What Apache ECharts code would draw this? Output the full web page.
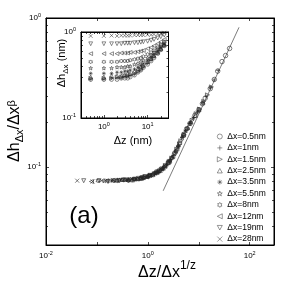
<!DOCTYPE html>
<html><head><meta charset="utf-8">
<script src="https://cdn.jsdelivr.net/npm/echarts@6/dist/echarts.min.js"></script>
<style>html,body{margin:0;padding:0;background:#fff}#c{width:291px;height:292px}</style>
</head><body><div id="c"></div>
<script>
// ---------- DATA ----------
const seriesNames = ['Δx=0.5nm','Δx=1nm','Δx=1.5nm','Δx=2.5nm','Δx=3.5nm','Δx=5.5nm','Δx=8nm','Δx=12nm','Δx=19nm','Δx=28nm'];

// main plot: scaled abscissa Δz/Δx^(1/z) and scaled ordinate Δh/Δx^β
const sx05 = [0.84,1.68,2.52,3.36,4.2,5.04,5.88,6.72,8.4,10.1,11.8,13.4,16.8,20.2,23.5,28.6,33.6,40.3];
const sy05 = [0.086,0.095,0.107,0.124,0.145,0.164,0.181,0.196,0.222,0.243,0.266,0.29,0.336,0.387,0.44,0.51,0.56,0.625];
const sx1  = [0.5,1,1.5,2,2.5,3,3.5,4,5,6,7,8,10,12,14,17,20,24];
const sy1  = [0.083,0.087,0.092,0.099,0.107,0.116,0.127,0.140,0.163,0.183,0.200,0.215,0.240,0.270,0.297,0.340,0.384,0.445];
const sx15 = [0.37,0.74,1.11,1.48,1.85,2.21,2.58,2.95,3.69,4.43,5.17,5.9,7.38,8.86,10.3,12.5,14.8,17.7];
const sy15 = [0.082,0.084,0.088,0.092,0.096,0.102,0.108,0.115,0.132,0.150,0.166,0.180,0.206,0.228,0.245,0.276,0.305,0.345];
const sx25 = [0.25,0.50,0.75,1.01,1.26,1.51,1.76,2.01,2.52,3.02,3.52,4.02,5.03,6.04,7.04,8.55,10.1,12.1];
const sy25 = [0.082,0.082,0.084,0.087,0.089,0.092,0.095,0.099,0.107,0.117,0.128,0.141,0.164,0.184,0.201,0.222,0.242,0.272];
const sx35 = [0.195,0.39,0.586,0.78,0.98,1.17,1.37,1.56,1.95,2.34,2.73,3.13,3.91,4.69,5.47,6.64,7.81,9.38];
const sy35 = [0.081,0.082,0.083,0.084,0.086,0.088,0.090,0.092,0.097,0.103,0.111,0.119,0.137,0.158,0.174,0.196,0.213,0.234];
const sx55 = [0.139,0.279,0.418,0.557,0.70,0.836,0.975,1.11,1.39,1.67,1.95,2.23,2.79,3.34,3.9,4.74,5.57,6.69];
const sy55 = [0.081,0.082,0.082,0.083,0.084,0.085,0.086,0.088,0.091,0.094,0.098,0.102,0.111,0.123,0.137,0.157,0.175,0.195];
const sx8  = [0.105,0.21,0.315,0.42,0.525,0.63,0.735,0.84,1.05,1.26,1.47,1.68,2.1,2.52,2.94,3.57,4.2,5.04];
const sy8  = [0.081,0.081,0.082,0.082,0.083,0.083,0.084,0.085,0.087,0.089,0.092,0.094,0.100,0.107,0.115,0.128,0.144,0.164];
const sx12 = [0.078,0.155,0.233,0.31,0.39,0.465,0.54,0.62,0.775,0.93,1.09,1.24,1.55,1.86,2.17,2.64,3.1,3.72];
const sy12 = [0.080,0.081,0.081,0.082,0.081,0.082,0.083,0.083,0.085,0.086,0.088,0.090,0.093,0.097,0.101,0.109,0.118,0.132];
const sx19 = [0.055,0.11,0.165,0.22,0.275,0.33,0.385,0.44,0.55,0.66,0.77,0.88,1.10,1.32,1.54,1.87,2.2,2.64];
const sy19 = [0.081,0.081,0.080,0.081,0.081,0.082,0.082,0.082,0.083,0.084,0.085,0.086,0.088,0.090,0.093,0.097,0.102,0.109];
const sx28 = [0.041,0.082,0.123,0.164,0.205,0.247,0.288,0.329,0.41,0.49,0.58,0.66,0.82,0.99,1.15,1.40,1.64,1.97];
const sy28 = [0.081,0.080,0.081,0.081,0.082,0.081,0.082,0.082,0.082,0.083,0.083,0.084,0.085,0.087,0.088,0.091,0.094,0.098];

// power-law guide line
const lineX = [2.0, 61.7];
const lineY = [0.0693, 0.866];

// inset: Δh (nm) versus Δz (nm)
const dz  = [0.5,1,1.5,2,2.5,3,3.5,4,5,6,7,8,10,12,14,17,20,24];
const h05 = [0.28,0.28,0.28,0.28,0.29,0.29,0.29,0.30,0.315,0.34,0.36,0.385,0.42,0.46,0.50,0.56,0.62,0.69];
const h1  = [0.28,0.28,0.29,0.29,0.29,0.30,0.30,0.31,0.32,0.34,0.36,0.39,0.43,0.47,0.51,0.57,0.62,0.69];
const h15 = [0.29,0.29,0.29,0.30,0.30,0.31,0.31,0.32,0.33,0.35,0.37,0.40,0.44,0.48,0.52,0.57,0.63,0.70];
const h25 = [0.30,0.30,0.31,0.31,0.31,0.32,0.33,0.33,0.35,0.37,0.39,0.41,0.45,0.49,0.53,0.58,0.64,0.71];
const h35 = [0.33,0.33,0.33,0.34,0.34,0.35,0.35,0.36,0.37,0.39,0.41,0.43,0.47,0.51,0.55,0.60,0.66,0.72];
const h55 = [0.38,0.38,0.38,0.39,0.39,0.39,0.40,0.40,0.42,0.43,0.45,0.47,0.50,0.54,0.58,0.63,0.68,0.74];
const h8  = [0.45,0.45,0.45,0.45,0.46,0.46,0.46,0.47,0.48,0.49,0.50,0.52,0.55,0.58,0.61,0.66,0.71,0.77];
const h12 = [0.56,0.56,0.56,0.56,0.57,0.57,0.57,0.58,0.58,0.59,0.60,0.61,0.64,0.66,0.69,0.73,0.77,0.82];
const h19 = [0.73,0.73,0.73,0.73,0.73,0.74,0.74,0.74,0.75,0.75,0.76,0.77,0.78,0.80,0.82,0.85,0.88,0.92];
const h28 = [0.90,0.90,0.91,0.90,0.91,0.91,0.91,0.91,0.92,0.92,0.92,0.92,0.93,0.93,0.94,0.95,0.96,0.98];

// tick labels shown (decade exponents)
const mainXLabelExp = [-2, 0, 2];
const mainYLabelExp = [-1, 0];
const insetXLabelExp = [0, 1];
const insetYLabelExp = [-1, 0];
const mainYMinorTicks = [0.04,0.05,0.06,0.07,0.08,0.09,0.2,0.3,0.4,0.5,0.6,0.7,0.8,0.9];
const insetYMinorTicks = [0.2,0.3,0.4,0.5,0.6,0.7,0.8,0.9];
const insetXMinorTicks = [0.4,0.5,0.6,0.7,0.8,0.9,2,3,4,5,6,7,8,9,20];

// ---------- CHART ----------
const FONT = '"Liberation Sans", Arial, Helvetica, sans-serif';
const INK = '#262626';
const mainSX = [sx05,sx1,sx15,sx25,sx35,sx55,sx8,sx12,sx19,sx28];
const mainSY = [sy05,sy1,sy15,sy25,sy35,sy55,sy8,sy12,sy19,sy28];
const insetH = [h05,h1,h15,h25,h35,h55,h8,h12,h19,h28];
const symbols = [
  'circle',
  'path://M5,0L5,10M0,5L10,5',
  'path://M0,0L10,5L0,10Z',
  'path://M5,0L10,9L0,9Z',
  'path://M5,0L5,10M0,5L10,5M1.5,1.5L8.5,8.5M1.5,8.5L8.5,1.5',
  'path://M5,0L6.12,3.45L9.76,3.45L6.82,5.59L7.94,9.05L5,6.91L2.06,9.05L3.18,5.59L0.24,3.45L3.88,3.45Z',
  'path://M5,0L6.44,2.5L9.33,2.5L7.89,5L9.33,7.5L6.44,7.5L5,10L3.56,7.5L0.67,7.5L2.11,5L0.67,2.5L3.56,2.5Z',
  'path://M10,0L0,5L10,10Z',
  'path://M0,0L10,0L5,9Z',
  'path://M0,0L10,10M0,10L10,0'
];
const zip = (a, b) => a.map((v, i) => [v, b[i]]);

function logFmt(allowed) {
  return function (v) {
    const l = Math.log10(v);
    const e = Math.round(l);
    if (Math.abs(l - e) > 1e-6 || allowed.indexOf(e) < 0) return '';
    return '{b|10}{s|' + e + '}';
  };
}
const labelRich = {
  b: { fontSize: 8, fontFamily: FONT, color: '#000' },
  s: { fontSize: 5.5, fontFamily: FONT, color: '#000', padding: [0, 0, 5, 0] }
};

function logAxis(o) {
  return Object.assign({
    type: 'log', logBase: 10, z: 6,
    axisLine: { show: true, onZero: false, lineStyle: { color: '#000', width: 1 } },
    axisTick: { show: true, inside: true, length: 3, lineStyle: { color: '#000', width: 0.7 } },
    splitLine: { show: false },
    axisLabel: { show: false }
  }, o);
}
function minorAxis(o, vals) {
  return Object.assign({
    type: 'value', z: 6,
    axisLine: { show: false, onZero: false },
    axisTick: { show: true, inside: true, length: 2, lineStyle: { color: '#000', width: 0.7 },
                customValues: vals.map(v => Math.log10(v)) },
    splitLine: { show: false },
    axisLabel: { show: false }
  }, o);
}

const series = [];
series.push({
  type: 'line', name: 'fit', xAxisIndex: 0, yAxisIndex: 0,
  data: zip(lineX, lineY), symbol: 'none', silent: true,
  lineStyle: { color: '#444', width: 0.7 }, z: 1
});
seriesNames.forEach((nm, i) => {
  series.push({
    type: 'scatter', name: nm, xAxisIndex: 0, yAxisIndex: 0,
    data: zip(mainSX[i], mainSY[i]), symbol: symbols[i],
    symbolSize: i === 0 ? 4.5 : 4,
    itemStyle: { color: 'none', borderColor: INK, borderWidth: 0.75 }, z: 3
  });
});
seriesNames.forEach((nm, i) => {
  series.push({
    type: 'scatter', name: nm, xAxisIndex: 2, yAxisIndex: 4,
    data: zip(dz, insetH[i]), symbol: symbols[i],
    symbolSize: 3.8,
    itemStyle: { color: 'none', borderColor: INK, borderWidth: 0.65 }, z: 5
  });
});

const option = {
  animation: false,
  backgroundColor: '#fff',
  grid: [
    { left: 46, top: 18, width: 228, height: 227, show: true, z: 0, backgroundColor: 'rgba(0,0,0,0)', borderColor: '#000', borderWidth: 1 },
    { left: 81, top: 32, width: 87.5, height: 86, show: true, backgroundColor: '#fff', borderColor: '#000', borderWidth: 1, z: 4 }
  ],
  xAxis: [
    logAxis({ gridIndex: 0, position: 'bottom', min: 0.01, max: 300,
      axisLabel: { show: true, margin: 5, formatter: logFmt(mainXLabelExp), rich: labelRich } }),
    logAxis({ gridIndex: 0, position: 'top', min: 0.01, max: 300 }),
    logAxis({ gridIndex: 1, position: 'bottom', min: 0.3, max: 30, splitNumber: 2,
      axisLabel: { show: true, margin: 3, formatter: logFmt(insetXLabelExp), rich: labelRich } }),
    logAxis({ gridIndex: 1, position: 'top', min: 0.3, max: 30, splitNumber: 2 }),
    minorAxis({ gridIndex: 1, position: 'bottom', min: Math.log10(0.3), max: Math.log10(30) }, insetXMinorTicks),
    minorAxis({ gridIndex: 1, position: 'top', min: Math.log10(0.3), max: Math.log10(30) }, insetXMinorTicks)
  ],
  yAxis: [
    logAxis({ gridIndex: 0, position: 'left', min: 0.03, max: 1, splitNumber: 2,
      axisLabel: { show: true, margin: 5, formatter: logFmt(mainYLabelExp), rich: labelRich } }),
    logAxis({ gridIndex: 0, position: 'right', min: 0.03, max: 1, splitNumber: 2 }),
    minorAxis({ gridIndex: 0, position: 'left', min: Math.log10(0.03), max: 0 }, mainYMinorTicks),
    minorAxis({ gridIndex: 0, position: 'right', min: Math.log10(0.03), max: 0 }, mainYMinorTicks),
    logAxis({ gridIndex: 1, position: 'left', min: 0.1, max: 1, splitNumber: 1,
      axisLabel: { show: true, margin: 5, formatter: logFmt(insetYLabelExp), rich: labelRich } }),
    logAxis({ gridIndex: 1, position: 'right', min: 0.1, max: 1, splitNumber: 1 }),
    minorAxis({ gridIndex: 1, position: 'left', min: -1, max: 0 }, insetYMinorTicks),
    minorAxis({ gridIndex: 1, position: 'right', min: -1, max: 0 }, insetYMinorTicks)
  ],
  legend: {
    data: seriesNames,
    orient: 'vertical', left: 212, top: 126,
    itemWidth: 5, itemHeight: 5, itemGap: 0.4,
    itemStyle: { color: 'rgba(0,0,0,0)', borderColor: INK, borderWidth: 0.6 },
    textStyle: { fontSize: 8.5, fontFamily: FONT, color: '#000', lineHeight: 11 },
    selectedMode: false
  },
  graphic: [
    { type: 'text', x: 16, y: 131, rotation: Math.PI / 2,
      style: { text: '{m|Δh}{sub|Δx}{m|/Δx}{sup|β}', align: 'center', verticalAlign: 'middle',
        rich: {
          m: { fontSize: 16, fontFamily: FONT, color: '#000', lineHeight: 19, verticalAlign: 'top' },
          sub: { fontSize: 11, fontFamily: FONT, color: '#000', lineHeight: 11, verticalAlign: 'bottom' },
          sup: { fontSize: 11, fontFamily: FONT, color: '#000', lineHeight: 11, verticalAlign: 'top' }
        } } },
    { type: 'text', x: 167, y: 270,
      style: { text: '{m|Δz/Δx}{sup|1/z}', align: 'center', verticalAlign: 'middle',
        rich: {
          m: { fontSize: 16, fontFamily: FONT, color: '#000', lineHeight: 21, verticalAlign: 'bottom' },
          sup: { fontSize: 12, fontFamily: FONT, color: '#000', lineHeight: 12, verticalAlign: 'top' }
        } } },
    { type: 'text', x: 84, y: 216,
      style: { text: '(a)', align: 'center', verticalAlign: 'middle', fontSize: 24, fontFamily: FONT, fill: '#000' } },
    { type: 'text', x: 63, y: 63, rotation: Math.PI / 2, z: 10,
      style: { text: '{m|Δh}{sub|Δx}{m| (nm)}', align: 'center', verticalAlign: 'middle',
        rich: {
          m: { fontSize: 11, fontFamily: FONT, color: '#000', lineHeight: 13, verticalAlign: 'top' },
          sub: { fontSize: 8, fontFamily: FONT, color: '#000', lineHeight: 8, verticalAlign: 'bottom' }
        } } },
    { type: 'text', x: 133, y: 141, z: 10,
      style: { text: 'Δz (nm)', align: 'center', verticalAlign: 'middle', fontSize: 11, fontFamily: FONT, fill: '#000' } }
  ],
  series: series
};
const chart = echarts.init(document.getElementById('c'), null, { renderer: 'canvas' });
chart.setOption(option);
</script>
</body></html>
